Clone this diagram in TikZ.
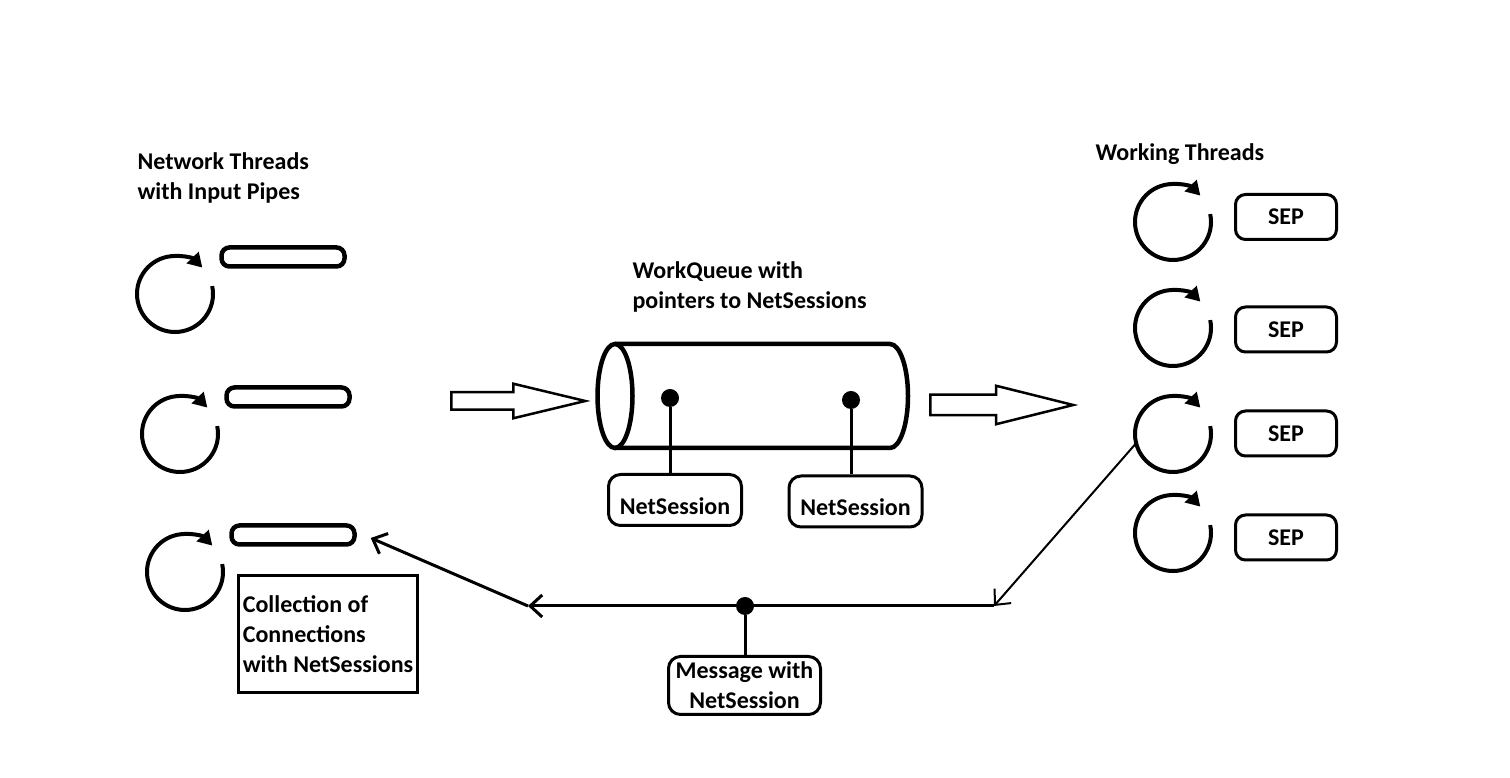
\documentclass[tikz,border=0pt]{standalone}
\usepackage{fontspec}
\setmainfont{Carlito}
\usetikzlibrary{arrows.meta,shapes.arrows,positioning}

\begin{document}
\begin{tikzpicture}[x=1pt,y=1pt,
  font=\fontsize{24}{30}\selectfont\bfseries,
  pipe/.style={draw,line width=4.5pt,rounded corners=8pt,minimum width=123pt,minimum height=19pt,inner sep=0pt},
  thread/.style={circle,minimum size=76pt,inner sep=0pt,outer sep=0pt},
  spin/.style={line width=4pt,-{Triangle[length=14pt,width=16pt]}},
  sepbox/.style={draw,line width=3pt,rounded corners=10pt,minimum width=101pt,minimum height=45pt,inner sep=0pt},
  session/.style={draw,line width=3pt,rounded corners=12pt,minimum width=133pt,minimum height=51pt,inner sep=0pt},
  hollow/.style={single arrow,draw,line width=2.5pt,inner sep=0pt,anchor=tail},
  reply/.style={line width=3pt,-{Straight Barb[length=12pt,width=22pt]}},
  dot/.style={circle,fill,inner sep=0pt,minimum size=18pt}]
\useasboundingbox (0,0) rectangle (1510,778);

% network threads with their input pipes
\node[anchor=west,align=left] (nettitle) at (134,600) {Network Threads\\with Input Pipes};
\foreach \n/\x/\y in {1/175/484,2/180/344,3/185/206} {
  \node[thread] (nt\n) at (\x,\y) {};
  \draw[spin] (nt\n.12) arc[start angle=12,end angle=-316,radius=38pt];
  \node[pipe] (pipe\n) at ([shift={(108,37)}]nt\n.center) {};
}

% work queue
\node[anchor=west,align=left] (qtitle) at (629,491) {WorkQueue with\\pointers to NetSessions};
\draw[line width=4.5pt] (615,382) ellipse[x radius=17.5,y radius=52];
\draw[line width=4.5pt] (615,434) -- (890,434) arc[start angle=90,end angle=-90,x radius=18,y radius=52] -- (615,330);
\node[dot] (q1) at (670,380) {};
\node[dot] (q2) at (851,378) {};
\node[session,text height=29pt] (s1) at (675,278) {NetSession};
\node[session,text height=29pt] (s2) at (855.5,276.5) {NetSession};
\draw[line width=3pt] (q1) -- (q1 |- s1.north);
\draw[line width=3pt] (q2) -- (q2 |- s2.north);

\node[hollow,minimum height=134pt,inner ysep=7.5pt,single arrow head extend=8.5pt,single arrow tip angle=27] (push) at (450,377) {};
\node[hollow,minimum height=143pt,inner ysep=9pt,single arrow head extend=9pt,single arrow tip angle=28] (pull) at (929,373) {};

% working threads
\node[anchor=west] (wtitle) at (1092,624) {Working Threads};
\foreach \n/\y/\s in {1/556/561,2/450/448.5,3/344/344.5,4/245/240.5} {
  \node[thread] (wt\n) at (1173,\y) {};
  \draw[spin] (wt\n.12) arc[start angle=12,end angle=-316,radius=38pt];
  \node[sepbox] (sep\n) at (1286,\s) {SEP};
}

% messages back to the connections
\coordinate (turn) at (994,172);
\coordinate (bend) at (528,172);
\draw[line width=2pt,-{Straight Barb[length=12pt,width=22pt]}] (wt3.194) -- (turn);
\draw[reply] (turn) -- (bend);
\node[dot] (m) at (745,172) {};
\node[session,minimum width=152pt,minimum height=58pt,align=center] (msg) at (744.5,92.5) {Message with\\NetSession};
\draw[line width=3pt] (m) -- (m |- msg.north);
\draw[reply] (bend) -- ([xshift=14pt,yshift=-3pt]pipe3.east);

\node[draw,line width=3pt,minimum width=177pt,minimum height=117pt,align=left,inner sep=4pt] (conns) at (328,144) {Collection of\\Connections\\with NetSessions};
\end{tikzpicture}
\end{document}
